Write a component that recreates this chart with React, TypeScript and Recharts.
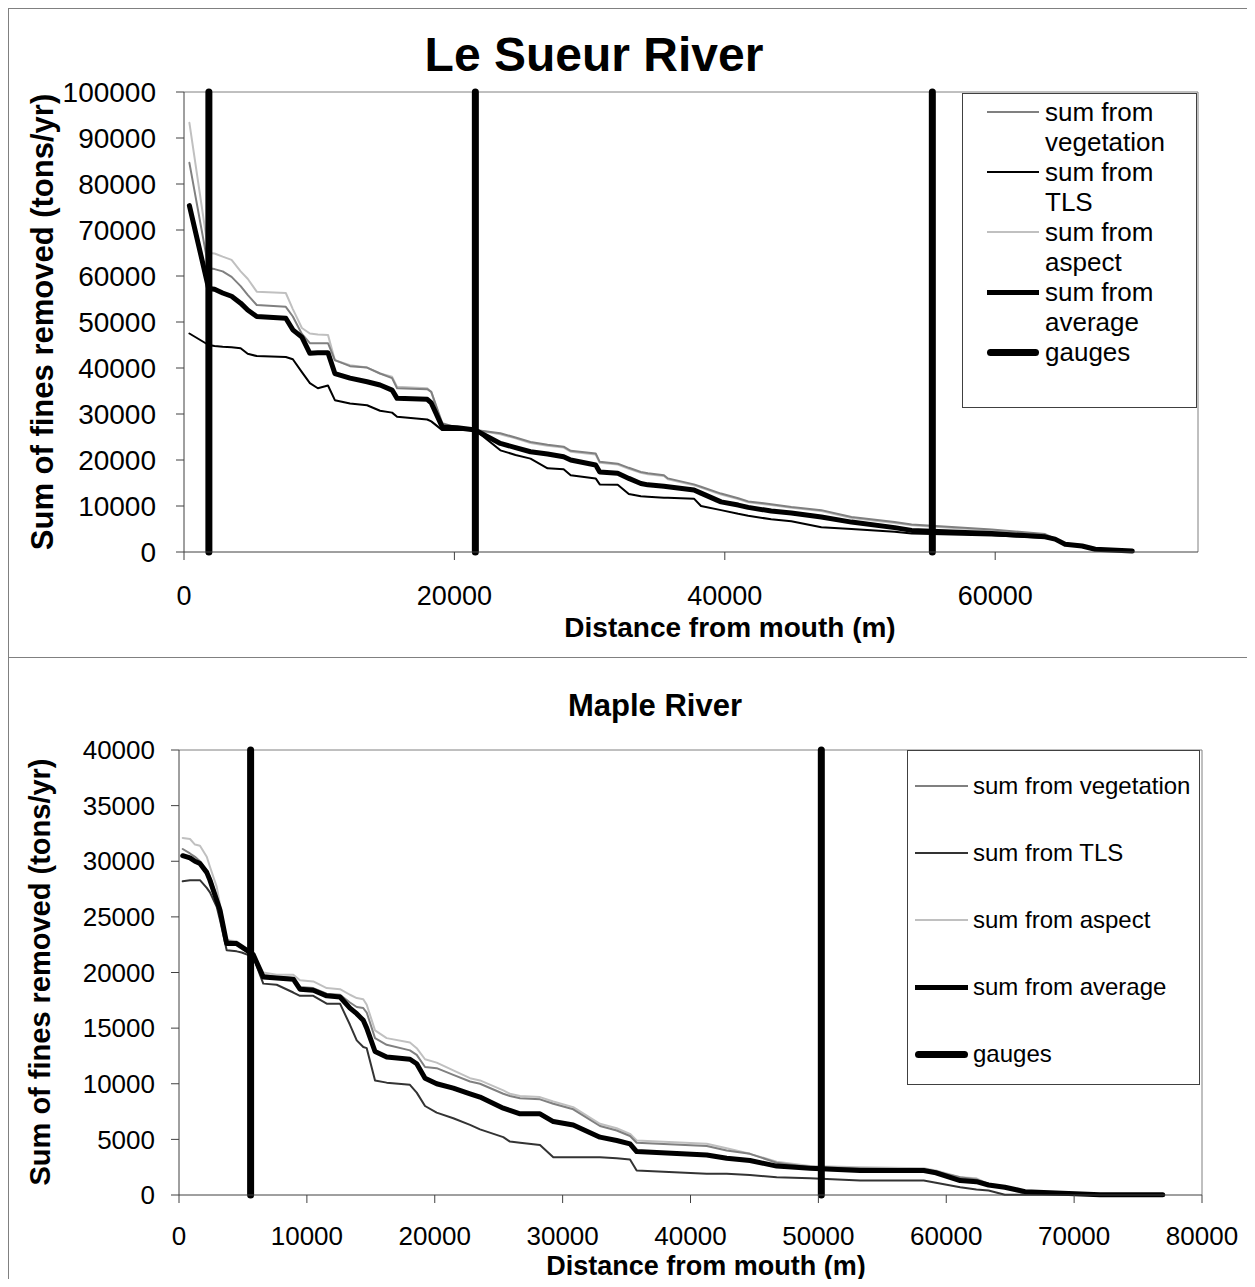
import React from "react";
import { LineChart, Line, XAxis, YAxis, ReferenceLine } from "recharts";

const FONT = "Arial, 'Liberation Sans', Helvetica, sans-serif";

// Le Sueur River: cumulative sums (tons/yr) vs distance from mouth (m)
const leSueurDistance = [
  400, 1820, 2260, 2860, 3520, 4190, 4710, 5380, 7530, 8050, 8720, 9310, 9900, 10650, 11160, 12280, 13540, 14500,
  15390, 15760, 17990, 18290, 19100, 20210, 21550, 23400, 24520, 25630, 26890, 28080, 28600, 30450, 30750, 32080,
  32900, 33790, 34310, 35500, 35790, 37720, 38240, 39720, 40990, 41730, 43430, 44920, 47140, 49370, 52560, 53820,
  59750, 63690, 64430, 65170, 66430, 67400, 70140,
];
const leSueurVegetation = [
  84600, 61700, 61500, 61000, 59800, 57800, 55900, 53700, 53300, 51200, 47400, 45400, 45400, 45400, 41700, 40400,
  40100, 38800, 37800, 35600, 35400, 34800, 28000, 27000, 26500, 25800, 24900, 23900, 23300, 22900, 22000, 21400,
  19600, 19200, 18300, 17400, 17100, 16700, 16000, 14700, 14200, 12700, 11700, 11000, 10400, 9800, 9100, 7600, 6500,
  6000, 4900, 3900, 2900, 1800, 1500, 600, 200,
];
const leSueurTLS = [
  47500, 45000, 44800, 44600, 44500, 44300, 43100, 42600, 42400, 41900, 39100, 36700, 35600, 36200, 33000, 32300,
  31900, 30700, 30300, 29400, 28800, 28400, 26500, 26500, 26500, 22100, 21100, 20300, 18200, 18000, 16700, 16000,
  14700, 14600, 12600, 12100, 12000, 11800, 11800, 11600, 10000, 9100, 8300, 7900, 7100, 6700, 5400, 5000, 4400,
  4000, 3600, 3100, 2700, 1700, 1200, 600, 200,
];
const leSueurAspect = [
  93300, 65000, 64900, 64200, 63500, 61000, 59400, 56600, 56300, 52800, 48700, 47500, 47300, 47200, 41700, 40600,
  40100, 38800, 38100, 35900, 35600, 34800, 27600, 27200, 26500, 25600, 24700, 23700, 23100, 22700, 21800, 21200,
  19400, 19000, 18100, 17200, 16900, 16500, 15800, 14500, 14000, 12500, 11500, 10800, 10200, 9600, 8900, 7400, 6300,
  5800, 4700, 3700, 2800, 1700, 1400, 500, 200,
];
const leSueurAverage = [
  75300, 57300, 57100, 56300, 55600, 54100, 52600, 51200, 50800, 48300, 46700, 43200, 43300, 43300, 38800, 37800,
  37000, 36300, 35200, 33400, 33200, 32400, 27200, 27000, 26500, 23600, 22700, 21800, 21300, 20700, 20000, 18900,
  17400, 17100, 16000, 14900, 14600, 14300, 14200, 13500, 12800, 10900, 10200, 9700, 8900, 8500, 7600, 6500, 5300,
  4700, 4000, 3300, 2800, 1700, 1300, 600, 200,
];
const leSueurGauges = [1840, 21550, 55350];
const leSueurXTicks = [0, 20000, 40000, 60000];
const leSueurYTicks = [0, 10000, 20000, 30000, 40000, 50000, 60000, 70000, 80000, 90000, 100000];

// Maple River
const mapleDistance = [
  290, 860, 1250, 1640, 2170, 2420, 2950, 3210, 3730, 4510, 4900, 5810, 6590, 7640, 8940, 9460, 10500, 11550, 12590,
  13370, 13900, 14410, 14680, 15330, 16240, 18060, 18590, 19240, 20150, 21450, 22760, 23540, 25360, 25880, 26670,
  28230, 29270, 30830, 32920, 34230, 35270, 35790, 41270, 42830, 44650, 46740, 49350, 53260, 58240, 59190, 61090,
  62360, 63310, 64580, 66160, 72020, 76930,
];
const mapleVegetation = [
  31100, 30700, 30400, 30000, 29100, 28600, 26800, 25900, 22900, 22700, 22200, 21600, 19800, 19600, 19500, 18700,
  18600, 18100, 18000, 17300, 16900, 16800, 16400, 14100, 13500, 13000, 12600, 11500, 11400, 10800, 10200, 10000,
  9100, 8900, 8700, 8600, 8200, 7700, 6200, 5800, 5300, 4700, 4400, 4000, 3700, 2900, 2500, 2400, 2300, 2100, 1600,
  1400, 1000, 700, 100, 30, 30,
];
const mapleTLS = [
  28200, 28300, 28300, 28300, 27600, 27200, 25900, 24700, 22000, 21900, 21800, 21400, 19000, 18900, 18200, 17900,
  17900, 17200, 17200, 15300, 13900, 13300, 13200, 10300, 10100, 9900, 9200, 8000, 7400, 6900, 6300, 5900, 5200,
  4800, 4700, 4500, 3400, 3400, 3400, 3300, 3200, 2200, 1900, 1900, 1800, 1600, 1500, 1300, 1300, 1100, 700, 500,
  400, 30, 30, 30, 30,
];
const mapleAspect = [
  32100, 32000, 31500, 31400, 30400, 29500, 27700, 26100, 22900, 22800, 22300, 21600, 20000, 19800, 19800, 19300,
  19200, 18600, 18500, 18000, 17700, 17600, 17100, 14800, 14100, 13700, 13200, 12200, 11900, 11200, 10500, 10300,
  9400, 9100, 8900, 8800, 8400, 7900, 6400, 6000, 5500, 4900, 4600, 4200, 3700, 3000, 2600, 2500, 2400, 2200, 1600,
  1500, 1000, 700, 200, 50, 30,
];
const mapleAverage = [
  30500, 30300, 30000, 29800, 29000, 28300, 26500, 25600, 22600, 22600, 22300, 21600, 19600, 19500, 19400, 18500,
  18400, 17900, 17800, 16800, 16300, 15700, 15000, 12900, 12400, 12200, 11800, 10500, 10000, 9600, 9100, 8800, 7800,
  7600, 7300, 7300, 6600, 6300, 5200, 4900, 4600, 3900, 3600, 3300, 3100, 2600, 2400, 2200, 2200, 2000, 1300, 1200,
  900, 700, 300, 30, 30,
];
const mapleGauges = [5600, 50230];
const mapleXTicks = [0, 10000, 20000, 30000, 40000, 50000, 60000, 70000, 80000];
const mapleYTicks = [0, 5000, 10000, 15000, 20000, 25000, 30000, 35000, 40000];

const buildRows = (dist: number[], veg: number[], tls: number[], asp: number[], avg: number[]) =>
  dist.map((x, i) => ({ x, vegetation: veg[i], tls: tls[i], aspect: asp[i], average: avg[i] }));

const leSueurRows = buildRows(leSueurDistance, leSueurVegetation, leSueurTLS, leSueurAspect, leSueurAverage);
const mapleRows = buildRows(mapleDistance, mapleVegetation, mapleTLS, mapleAspect, mapleAverage);

const makeSeries = (tlsColor: string) => [
  { key: "vegetation", name: "sum from vegetation", color: "#808080", width: 2 },
  { key: "tls", name: "sum from TLS", color: tlsColor, width: 2 },
  { key: "aspect", name: "sum from aspect", color: "#c0c0c0", width: 2 },
  { key: "average", name: "sum from average", color: "#000000", width: 5 },
];

const Legend = ({ items, style, fontSize, lineHeight, rowHeight, sampleWidth, padLeft, gap, textWidth }: any) => (
  <div
    style={{
      position: "absolute",
      border: "1px solid #404040",
      background: "#fff",
      boxSizing: "border-box",
      fontFamily: FONT,
      fontSize,
      lineHeight: `${lineHeight}px`,
      color: "#000",
      ...style,
    }}
  >
    {items.map((it: any) => (
      <div key={it.name} style={{ display: "flex", alignItems: "flex-start", height: rowHeight ?? "auto" }}>
        <div
          style={{
            marginLeft: padLeft,
            marginTop: lineHeight / 2 - it.width / 2,
            width: sampleWidth,
            height: it.width,
            background: it.color,
            borderRadius: it.width > 5 ? it.width / 2 : 0,
            flex: "none",
          }}
        />
        <div style={{ marginLeft: gap, width: textWidth }}>{it.name}</div>
      </div>
    ))}
  </div>
);

const Text = ({ x, y, size, children, rotate }: any) => (
  <div
    style={{
      position: "absolute",
      left: x,
      top: y,
      transform: `translate(-50%, -50%)${rotate ? " rotate(-90deg)" : ""}`,
      whiteSpace: "nowrap",
      fontFamily: FONT,
      fontWeight: "bold",
      fontSize: size,
      lineHeight: 1,
      color: "#000",
    }}
  >
    {children}
  </div>
);

const Plot = ({ rows, series, gauges, xTicks, yTicks, xMax, yMax, width, height, margin, yWidth, xHeight, xTickSize, yTickSize, xTickMargin, yTickMargin }: any) => {
  const drawOrder = ["aspect", "vegetation", "tls", "average"];
  return (
    <LineChart width={width} height={height} data={rows} margin={margin}>
      <XAxis
        dataKey="x"
        type="number"
        domain={[0, xMax]}
        ticks={xTicks}
        height={xHeight}
        tickSize={8}
        tickMargin={xTickMargin}
        stroke="#404040"
        tick={{ fontSize: xTickSize, fill: "#000", fontFamily: FONT }}
        tickFormatter={(v: number) => String(v)}
        interval={0}
      />
      <YAxis
        type="number"
        domain={[0, yMax]}
        ticks={yTicks}
        width={yWidth}
        tickSize={8}
        tickMargin={yTickMargin}
        stroke="#404040"
        tick={{ fontSize: yTickSize, fill: "#000", fontFamily: FONT }}
        tickFormatter={(v: number) => String(v)}
        interval={0}
      />
      <ReferenceLine y={yMax} stroke="#808080" strokeWidth={1} />
      <ReferenceLine x={xMax} stroke="#808080" strokeWidth={1} />
      {drawOrder.map((k) => {
        const s = series.find((d: any) => d.key === k);
        return (
          <Line
            key={k}
            dataKey={k}
            name={s.name}
            type="linear"
            stroke={s.color}
            strokeWidth={s.width}
            strokeLinejoin="round"
            strokeLinecap="round"
            dot={false}
            activeDot={false}
            isAnimationActive={false}
          />
        );
      })}
      {gauges.map((g: number) => (
        <ReferenceLine key={g} x={g} stroke="#000" strokeWidth={7} strokeLinecap="round" />
      ))}
    </LineChart>
  );
};

export default function App() {
  const topSeries = makeSeries("#000000");
  const bottomSeries = makeSeries("#333333");
  const gaugeItem = { name: "gauges", color: "#000000", width: 7 };

  return (
    <div style={{ position: "relative", width: 1247, height: 1279, marginBottom: -8, overflow: "hidden", background: "#fff" }}>
      {/* Le Sueur River */}
      <div style={{ position: "absolute", left: 0, top: 0, width: 1300, height: 650, border: "1px solid #808080", boxSizing: "border-box" }} />
      <div style={{ position: "absolute", left: 0, top: 0 }}>
        <Plot
          rows={leSueurRows}
          series={topSeries}
          gauges={leSueurGauges}
          xTicks={leSueurXTicks}
          yTicks={leSueurYTicks}
          xMax={75000}
          yMax={100000}
          width={1247}
          height={649}
          margin={{ top: 84, right: 57, bottom: 0, left: 0 }}
          yWidth={176}
          xHeight={105}
          xTickSize={27}
          yTickSize={28}
          xTickMargin={26}
          yTickMargin={20}
        />
      </div>
      <Text x={586} y={47} size={48}>Le Sueur River</Text>
      <Text x={34} y={314} size={31} rotate>Sum of fines removed (tons/yr)</Text>
      <Text x={722} y={620} size={28}>Distance from mouth (m)</Text>
      <Legend
        items={[...topSeries, gaugeItem]}
        style={{ left: 954, top: 85, width: 235, height: 315, paddingTop: 3 }}
        fontSize={26}
        lineHeight={30}
        sampleWidth={52}
        padLeft={24}
        gap={6}
        textWidth={150}
      />

      {/* Maple River */}
      <div style={{ position: "absolute", left: 0, top: 649, width: 1300, height: 700, border: "1px solid #808080", boxSizing: "border-box" }} />
      <div style={{ position: "absolute", left: 0, top: 649 }}>
        <Plot
          rows={mapleRows}
          series={bottomSeries}
          gauges={mapleGauges}
          xTicks={mapleXTicks}
          yTicks={mapleYTicks}
          xMax={80000}
          yMax={40000}
          width={1247}
          height={630}
          margin={{ top: 93, right: 53, bottom: 0, left: 0 }}
          yWidth={171}
          xHeight={92}
          xTickSize={26}
          yTickSize={26}
          xTickMargin={24}
          yTickMargin={16}
        />
      </div>
      <Text x={647} y={697} size={31}>Maple River</Text>
      <Text x={32} y={964} size={29} rotate>Sum of fines removed (tons/yr)</Text>
      <Text x={698} y={1258} size={27}>Distance from mouth (m)</Text>
      <Legend
        items={[...bottomSeries, gaugeItem]}
        style={{ left: 899, top: 742, width: 293, height: 335, paddingTop: 21 }}
        fontSize={24}
        lineHeight={28}
        rowHeight={67}
        sampleWidth={53}
        padLeft={7}
        gap={5}
        textWidth={240}
      />
    </div>
  );
}
